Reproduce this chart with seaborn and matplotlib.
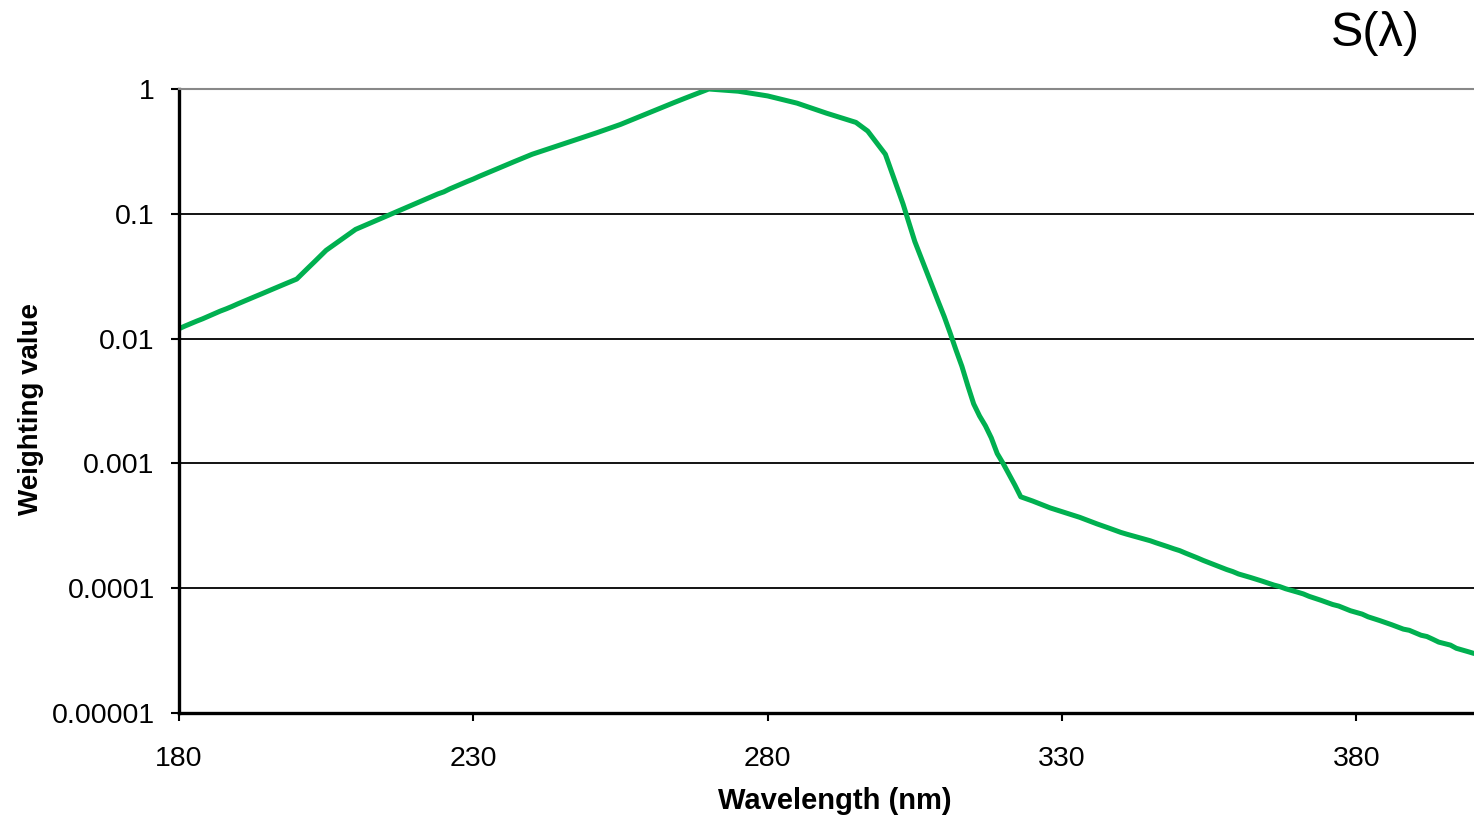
import numpy as np
import pandas as pd
import matplotlib
matplotlib.use("Agg")
import matplotlib.pyplot as plt
import matplotlib.ticker as mticker
import seaborn as sns

# Wavelengths (nm), 1-nm steps 180..400
wavelength = list(range(180, 401))

# Weighting values S(lambda)
weighting = [
    0.012, 0.0126, 0.0132, 0.0138, 0.0144, 0.0151, 0.0158, 0.0166, 0.0173, 0.0181,
    0.0190, 0.0199, 0.0208, 0.0218, 0.0228, 0.0239, 0.0250, 0.0262, 0.0274, 0.0287,
    0.0300, 0.0334, 0.0371, 0.0412, 0.0459, 0.0510, 0.0551, 0.0595, 0.0643, 0.0694,
    0.0750, 0.0786, 0.0824, 0.0864, 0.0906, 0.0950, 0.0995, 0.1043, 0.1093, 0.1145,
    0.1200, 0.1257, 0.1316, 0.1378, 0.1444, 0.1500, 0.1583, 0.1658, 0.1737, 0.1819,
    0.1900, 0.1995, 0.2089, 0.2188, 0.2292, 0.2400, 0.2510, 0.2624, 0.2744, 0.2869,
    0.3000, 0.3111, 0.3227, 0.3347, 0.3471, 0.3600, 0.3730, 0.3865, 0.4005, 0.4150,
    0.4300, 0.4465, 0.4637, 0.4815, 0.5000, 0.5200, 0.5437, 0.5685, 0.5945, 0.6216,
    0.6500, 0.6792, 0.7098, 0.7417, 0.7751, 0.8100, 0.8449, 0.8812, 0.9192, 0.9587,
    1.0000, 0.9919, 0.9838, 0.9758, 0.9679, 0.9600, 0.9434, 0.9272, 0.9112, 0.8954,
    0.8800, 0.8568, 0.8342, 0.8122, 0.7908, 0.7700, 0.7420, 0.7151, 0.6891, 0.6641,
    0.6400, 0.6186, 0.5980, 0.5780, 0.5587, 0.5400, 0.4984, 0.4600, 0.3989, 0.3459,
    0.3000, 0.2210, 0.1629, 0.1200, 0.0849, 0.0600, 0.0454, 0.0344, 0.0260, 0.0197,
    0.0150, 0.0111, 0.0081, 0.0060, 0.0042, 0.0030, 0.0024, 0.0020, 0.0016, 0.0012,
    0.0010, 0.000819, 0.000670, 0.000540, 0.000520, 0.000500, 0.000479, 0.000459, 0.000440, 0.000425,
    0.000410, 0.000396, 0.000383, 0.000370, 0.000355, 0.000340, 0.000327, 0.000315, 0.000303, 0.000291,
    0.000280, 0.000271, 0.000263, 0.000255, 0.000248, 0.000240, 0.000231, 0.000223, 0.000215, 0.000207,
    0.000200, 0.000191, 0.000183, 0.000175, 0.000167, 0.000160, 0.000153, 0.000147, 0.000141, 0.000136,
    0.000130, 0.000126, 0.000122, 0.000118, 0.000114, 0.000110, 0.000106, 0.000103, 0.000099, 0.000096,
    0.000093, 0.000090, 0.000086, 0.000083, 0.000080, 0.000077, 0.000074, 0.000072, 0.000069, 0.000066,
    0.000064, 0.000062, 0.000059, 0.000057, 0.000055, 0.000053, 0.000051, 0.000049, 0.000047, 0.000046,
    0.000044, 0.000042, 0.000041, 0.000039, 0.000037, 0.000036, 0.000035, 0.000033, 0.000032, 0.000031,
    0.000030,
]

x_ticks = [180, 230, 280, 330, 380]
y_ticks = [1, 0.1, 0.01, 0.001, 0.0001, 0.00001]
y_tick_labels = ["1", "0.1", "0.01", "0.001", "0.0001", "0.00001"]

sns.set_theme(style="white")
plt.rcParams["font.family"] = ["Liberation Sans", "DejaVu Sans"]

df = pd.DataFrame({"Wavelength": wavelength, "S": weighting})

fig = plt.figure(figsize=(14.74, 8.18), dpi=100)
ax = fig.add_axes([179 / 1474, 1 - 713 / 818, 1 - 179 / 1474, (713 - 89) / 818])

sns.lineplot(data=df, x="Wavelength", y="S", ax=ax, color="#00B050", linewidth=3.6)

ax.set_yscale("log")
ax.set_xlim(180, 400)
ax.set_ylim(1e-5, 1)

ax.yaxis.set_major_locator(mticker.FixedLocator(y_ticks))
ax.yaxis.set_major_formatter(mticker.FixedFormatter(y_tick_labels))
ax.yaxis.set_minor_locator(mticker.NullLocator())
ax.set_xticks(x_ticks)
ax.set_xticklabels([str(t) for t in x_ticks])

ax.grid(axis="y", which="major", color="black", linewidth=1.3)
ax.grid(axis="x", visible=False)
ax.set_axisbelow(True)

for s in ["left", "bottom"]:
    ax.spines[s].set_color("black")
    ax.spines[s].set_linewidth(2.4)
ax.spines["top"].set_color("#888888")
ax.spines["top"].set_linewidth(1.5)
ax.spines["right"].set_visible(False)

ax.tick_params(axis="y", which="major", direction="out", length=6, width=1.5,
               color="black", left=True, labelsize=20.5, pad=11.5, labelcolor="black")
ax.tick_params(axis="x", which="major", direction="out", length=6, width=1.5,
               color="black", bottom=True, labelsize=20.5, pad=18, labelcolor="black")

ax.set_xlabel("Wavelength (nm)", fontsize=21, fontweight="bold", color="black")
ax.set_ylabel("Weighting value", fontsize=20, fontweight="bold", color="black")
ax.xaxis.set_label_coords((835 - 179) / 1295, (713 - 787) / 624)
ax.yaxis.set_label_coords((44 - 179) / 1295, (713 - 409) / 624)

fig.text(1375 / 1474, 1 - 33 / 818, "S(λ)", fontsize=35, ha="center", va="center",
         color="black")

fig.savefig("out.png", dpi=100, facecolor="white")
